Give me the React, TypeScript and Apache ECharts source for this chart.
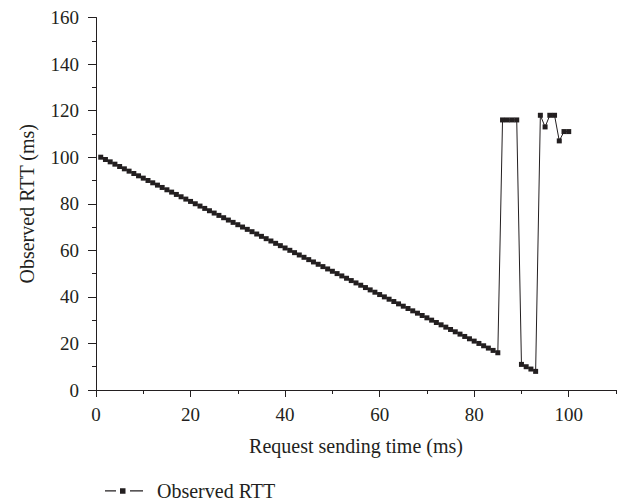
import React, { useEffect, useRef } from "react";
import * as echarts from "echarts";

// Request sending time (ms)
const sendTime = [
  1, 2, 3, 4, 5, 6, 7, 8, 9, 10, 11, 12, 13, 14, 15, 16, 17, 18, 19, 20,
  21, 22, 23, 24, 25, 26, 27, 28, 29, 30, 31, 32, 33, 34, 35, 36, 37, 38, 39, 40,
  41, 42, 43, 44, 45, 46, 47, 48, 49, 50, 51, 52, 53, 54, 55, 56, 57, 58, 59, 60,
  61, 62, 63, 64, 65, 66, 67, 68, 69, 70, 71, 72, 73, 74, 75, 76, 77, 78, 79, 80,
  81, 82, 83, 84, 85, 86, 87, 88, 89, 90, 91, 92, 93, 94, 95, 96, 97, 98, 99, 100,
];

// Observed RTT (ms)
const observedRtt = [
  100, 99, 98, 97, 96, 95, 94, 93, 92, 91, 90, 89, 88, 87, 86, 85, 84, 83, 82, 81,
  80, 79, 78, 77, 76, 75, 74, 73, 72, 71, 70, 69, 68, 67, 66, 65, 64, 63, 62, 61,
  60, 59, 58, 57, 56, 55, 54, 53, 52, 51, 50, 49, 48, 47, 46, 45, 44, 43, 42, 41,
  40, 39, 38, 37, 36, 35, 34, 33, 32, 31, 30, 29, 28, 27, 26, 25, 24, 23, 22, 21,
  20, 19, 18, 17, 16, 116, 116, 116, 116, 11, 10, 9, 8, 118, 113, 118, 118, 107, 111, 111,
];

const xMajorTicks = [0, 20, 40, 60, 80, 100];
const xMinorTicks = [10, 30, 50, 70, 90, 110];

const INK = "#231f20";
const FONT = "'Liberation Serif', 'Times New Roman', serif";

// Legend key: short dash, square marker, short dash
const LEGEND_ICON =
  "path://M0,2.5h11v1.2h-11z M15,0.5h5.5v5.5h-5.5z M25,2.5h13v1.2h-13z";

export default function App() {
  const ref = useRef<HTMLDivElement>(null);

  useEffect(() => {
    if (!ref.current) return;
    const chart = echarts.init(ref.current, undefined, { renderer: "svg" });
    const points = sendTime.map((t, i) => [t, observedRtt[i]]);

    chart.setOption({
      animation: false,
      backgroundColor: "#ffffff",
      textStyle: { fontFamily: FONT, color: INK },
      grid: { left: 88, right: 5, top: 1, bottom: 111, containLabel: false },
      legend: {
        left: 92,
        top: 468,
        itemWidth: 38,
        itemHeight: 6,
        data: [{ name: "Observed RTT", icon: LEGEND_ICON }],
        textStyle: {
          fontFamily: FONT,
          fontSize: 20,
          color: INK,
          padding: [0, 0, 0, 9],
        },
      },
      xAxis: [
        {
          type: "value",
          min: 0,
          max: 110,
          interval: 10,
          name: "Request sending time (ms)",
          nameLocation: "middle",
          nameGap: 46,
          nameTextStyle: { fontFamily: FONT, fontSize: 20, color: INK },
          axisLine: { show: true, onZero: false, lineStyle: { color: INK, width: 1 } },
          axisTick: {
            show: true,
            inside: false,
            length: 7,
            customValues: xMajorTicks,
            lineStyle: { color: INK, width: 1 },
          },
          axisLabel: {
            customValues: xMajorTicks,
            margin: 15,
            fontFamily: FONT,
            fontSize: 19,
            color: INK,
          },
          splitLine: { show: false },
        },
        {
          type: "value",
          min: 0,
          max: 110,
          interval: 10,
          position: "bottom",
          axisLine: { show: false },
          axisTick: {
            show: true,
            inside: false,
            length: 4,
            customValues: xMinorTicks,
            lineStyle: { color: INK, width: 1 },
          },
          axisLabel: { show: false },
          splitLine: { show: false },
        },
      ],
      yAxis: {
        type: "value",
        min: 0,
        max: 160,
        interval: 20,
        name: "Observed RTT (ms)",
        nameLocation: "middle",
        nameGap: 59,
        nameTextStyle: { fontFamily: FONT, fontSize: 20, color: INK },
        axisLine: { show: true, lineStyle: { color: INK, width: 1 } },
        axisTick: { show: true, inside: false, length: 8, lineStyle: { color: INK, width: 1 } },
        minorTick: { show: true, splitNumber: 2, length: 4, lineStyle: { color: INK, width: 1 } },
        axisLabel: { margin: 17, fontFamily: FONT, fontSize: 19, color: INK },
        splitLine: { show: false },
        minorSplitLine: { show: false },
      },
      series: [
        {
          name: "Observed RTT",
          type: "line",
          xAxisIndex: 0,
          data: points,
          symbol: "rect",
          symbolSize: 5,
          showAllSymbol: true,
          itemStyle: { color: INK },
          lineStyle: { color: INK, width: 1 },
        },
      ],
    });

    return () => chart.dispose();
  }, []);

  return <div ref={ref} style={{ width: 613, height: 493 }} />;
}
